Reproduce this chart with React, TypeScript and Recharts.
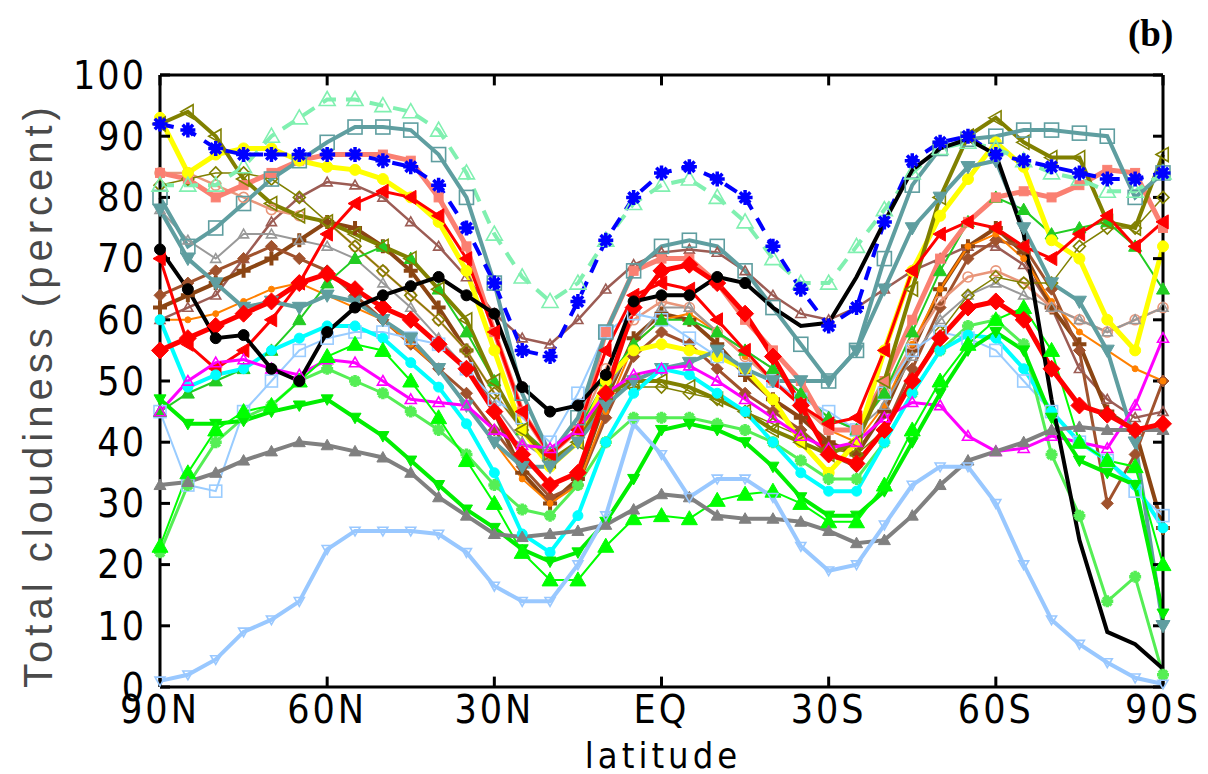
import { LineChart, Line, XAxis, YAxis, ReferenceLine } from 'recharts'

// latitude grid, 90N -> 90S every 5 degrees
const lats = [90, 85, 80, 75, 70, 65, 60, 55, 50, 45, 40, 35, 30, 25, 20, 15, 10, 5, 0, -5, -10, -15, -20, -25, -30, -35, -40, -45, -50, -55, -60, -65, -70, -75, -80, -85, -90]

const latTicks = [90, 60, 30, 0, -30, -60, -90]
const latTickLabels = ['90N', '60N', '30N', 'EQ', '30S', '60S', '90S']
const cloudTicks = [0, 10, 20, 30, 40, 50, 60, 70, 80, 90, 100]

// zonal mean total cloudiness (percent), one array per model / observation
const rosyBrown = [60, 62, 64, 70, 76, 80, 82.5, 82, 80, 76, 72, 67, 61, 57, 56, 60, 65, 69, 71, 71.5, 71, 68, 64, 61, 60, 62, 65, 68, 70, 72, 72, 69, 62, 52, 47, 44, 45]
const saddleBrown = [62, 64, 66, 68, 70, 73, 76, 75, 72, 68, 62, 55, 45, 35, 30, 34, 47, 57, 61, 60, 56, 51, 47, 44, 40, 38, 45, 55, 65, 72, 75, 71, 62, 56, 45, 42, 26]
const sienna = [64, 66, 68, 70, 72, 70, 68, 64, 60, 56, 52, 48, 42, 36, 31, 33, 44, 54, 58, 56, 52, 48, 45, 42, 38, 36, 42, 52, 62, 70, 73, 72, 65, 55, 30, 38, 50]
const orange = [60, 60, 61, 63, 65, 66, 64, 62, 60, 56, 52, 46, 40, 34, 30, 33, 45, 56, 60, 61, 58, 54, 50, 46, 42, 40, 46, 56, 65, 72, 74, 70, 63, 58, 55, 52, 50]
const darkSalmon = [84, 84, 82, 80, 78, 77, 76, 72, 68, 64, 60, 55, 48, 42, 38, 42, 52, 60, 63, 62, 58, 54, 50, 46, 42, 42, 48, 56, 63, 67, 68, 66, 62, 60, 58, 60, 62]
const grayHollow = [78, 73, 70, 74, 74, 73, 72, 70, 66, 62, 57, 52, 46, 40, 37, 40, 48, 56, 62, 62, 58, 55, 52, 48, 44, 42, 46, 54, 60, 64, 66, 64, 62, 60, 58, 60, 62]
const oliveDiamond = [82, 83, 84, 84, 83, 80, 76, 72, 68, 64, 60, 55, 48, 42, 38, 42, 48, 49, 49, 48, 47, 45, 43, 41, 39, 38, 42, 50, 58, 64, 67, 66, 66, 72, 75, 75, 80]
const skySquare = [45, 33, 32, 45, 50, 55, 57, 58, 58, 57, 56, 52, 47, 44, 40, 48, 58, 61, 60, 57, 54, 52, 50, 47, 45, 42, 48, 55, 58, 57, 55, 50, 45, 40, 37, 32, 28]
const limeUp = [45, 48, 50, 52, 55, 60, 66, 70, 72, 70, 65, 58, 50, 42, 38, 42, 50, 56, 60, 60, 58, 55, 52, 48, 44, 42, 48, 58, 68, 76, 80, 78, 74, 75, 76, 72, 65]
const salmon = [84, 83, 80, 82, 84, 86, 87, 87, 87, 86, 80, 72, 58, 45, 38, 42, 58, 68, 70, 70, 66, 60, 55, 50, 42, 42, 50, 60, 70, 76, 80, 81, 80, 82, 84.5, 84, 75]
const yellow = [93, 84, 87, 88, 88, 86, 85, 84.5, 83, 80, 76, 68, 55, 42, 36, 40, 50, 55, 56, 55, 54, 52, 47, 40, 35, 40, 55, 68, 77, 83, 89, 85, 73, 70, 60, 55, 72]
const oliveLeft = [92, 94, 90, 83, 79, 77, 76, 74, 72, 70, 65, 60, 50, 42, 37, 40, 48, 50, 50, 49, 47, 45, 42, 40, 38, 40, 50, 65, 80, 90, 93, 89, 86.5, 86.5, 76, 75, 87]
const redLeft = [70, 56, 52, 55, 60, 66, 74, 79, 81, 80, 77, 70, 58, 45, 38, 42, 55, 64, 66, 65, 60, 55, 50, 46, 43, 44, 55, 68, 74, 76, 75, 72, 70, 74, 77, 72, 76]
const tealDown = [78, 70, 66, 62, 63, 62, 64, 63, 60, 57, 52, 46, 40, 36, 36, 40, 46, 50, 52, 53, 55, 52, 50, 50, 50, 55, 65, 75, 80, 85, 86, 75, 66, 63, 55, 40, 10]
const tealSquare = [80, 72, 75, 79, 83, 86, 89, 91.5, 91.5, 91, 87, 80, 66, 48, 38, 44, 58, 68, 72, 73, 72, 68, 62, 56, 50, 55, 70, 82, 88, 89.5, 90, 91, 91, 90.5, 90, 80, 84]
const lightGreen = [22, 33, 40, 44, 46, 50, 52, 50, 48, 45, 42, 38, 33, 29, 28, 33, 40, 44, 44, 44, 43, 42, 40, 37, 34, 34, 40, 48, 55, 59, 60, 56, 38, 28, 14, 18, 2]
const cyan = [60, 49, 51, 52, 55, 57, 59, 59, 57, 53, 49, 43, 35, 25, 22, 28, 40, 48, 52, 51, 48, 45, 40, 35, 32, 32, 40, 48, 55, 57.5, 57, 52, 45, 40, 37, 33, 26]
const magenta = [45, 50, 53, 53.5, 52, 51, 53.5, 53, 50, 47, 46.5, 46, 42, 39.5, 39, 42, 48, 51, 52, 52.5, 50, 47, 44, 41, 39, 40, 44, 46.5, 46, 41, 38.5, 39, 41, 40, 39, 46, 57]
const greenDown = [47, 43, 43, 43.5, 45, 46, 47, 44, 41, 37, 33, 29, 26, 22.5, 20.5, 22, 27, 34, 42, 43, 42, 40, 36, 31, 28, 28, 32, 40, 48, 55, 58, 55, 44, 37, 35, 33, 12]
const greenUp = [23, 35, 42, 45, 46, 50, 54, 56, 55, 50, 44, 37, 30, 22, 17.5, 17.5, 23, 27.5, 28, 27.5, 30.5, 31.5, 32, 30, 27, 27, 33, 42, 50, 56, 60, 62, 55, 40, 37, 36, 20]
const grayUp = [33, 33.5, 35, 37, 38.5, 40, 39.5, 38.5, 37.5, 35, 31, 28, 25, 24.5, 25, 25.5, 26.5, 29, 31.5, 31, 28, 27.5, 27.5, 27, 25.5, 23.5, 24, 28, 33, 37, 38.5, 40, 42, 42.5, 42, 42, 42]
const lightBlue = [1, 2, 4.5, 9, 11, 14, 22.5, 25.5, 25.5, 25.5, 25, 22, 16.5, 14, 14, 20, 28, 43, 38, 31, 34, 34, 31, 23, 19, 20, 26.5, 33, 36, 36, 30, 20, 11, 7, 4, 1.5, 0.5]
const aquaDashed = [82, 82, 82, 85, 90, 93, 96, 96, 95, 94, 91, 84, 74, 67, 63, 66, 73, 79, 82, 83, 80, 76, 70, 66, 66, 72, 78, 84, 88, 89, 88, 86, 84, 83, 81, 81, 84]
const blueDashed = [92, 91, 88, 87, 87, 87, 87, 87, 86, 85, 82, 75, 66, 55, 54, 63, 73, 80, 84, 85, 83, 80, 72, 65, 59, 62, 76, 86, 89, 90, 87, 86, 85, 84, 83, 83, 84]
const redDiamond = [55, 57, 59, 61, 63, 66, 67.5, 65, 62, 60, 56, 52, 45, 38, 33, 35, 48, 62, 68, 69, 66, 61, 54, 46, 38, 36.5, 42, 50, 57, 62, 63, 60, 52, 46, 44.5, 42, 43]
const observed = [71.5, 65, 57, 57.5, 52, 50, 58, 62, 64, 65.5, 67, 64, 61, 49, 45, 46, 51, 63, 64, 64, 67, 66, 62, 59, 59.5, 67, 76, 84.5, 88, 89.5, 87, 74, 47, 24, 9, 7, 3]

type Marker = 'circle' | 'square' | 'up' | 'down' | 'left' | 'diamond' | 'plus' | 'star' | 'none'

interface SeriesStyle {
  key: string
  values: number[]
  color: string
  width: number
  marker: Marker
  filled: boolean
  size: number
  dash?: string
  markerUntil?: number // only draw markers north of this latitude
}

// drawing order: first is at the bottom
const series: SeriesStyle[] = [
  { key: 'rosyBrown', values: rosyBrown, color: '#9c5c54', width: 2.5, marker: 'up', filled: false, size: 10 },
  { key: 'saddleBrown', values: saddleBrown, color: '#8b4513', width: 4, marker: 'plus', filled: true, size: 14 },
  { key: 'sienna', values: sienna, color: '#a0522d', width: 3, marker: 'diamond', filled: true, size: 12 },
  { key: 'orange', values: orange, color: '#ff8000', width: 2, marker: 'circle', filled: true, size: 6 },
  { key: 'darkSalmon', values: darkSalmon, color: '#e9967a', width: 2.5, marker: 'circle', filled: false, size: 10 },
  { key: 'grayHollow', values: grayHollow, color: '#999999', width: 2, marker: 'up', filled: false, size: 10 },
  { key: 'oliveDiamond', values: oliveDiamond, color: '#808000', width: 1.5, marker: 'diamond', filled: false, size: 12 },
  { key: 'skySquare', values: skySquare, color: '#99ccff', width: 2, marker: 'square', filled: false, size: 12 },
  { key: 'limeUp', values: limeUp, color: '#22cc22', width: 2, marker: 'up', filled: true, size: 13 },
  { key: 'salmon', values: salmon, color: '#fa8072', width: 5, marker: 'square', filled: true, size: 9 },
  { key: 'yellow', values: yellow, color: '#ffff00', width: 5, marker: 'circle', filled: true, size: 11 },
  { key: 'oliveLeft', values: oliveLeft, color: '#808000', width: 4, marker: 'left', filled: false, size: 14 },
  { key: 'redLeft', values: redLeft, color: '#ff0000', width: 3, marker: 'left', filled: true, size: 14 },
  { key: 'tealDown', values: tealDown, color: '#5f9ea0', width: 4, marker: 'down', filled: true, size: 14 },
  { key: 'tealSquare', values: tealSquare, color: '#5f9ea0', width: 4, marker: 'square', filled: false, size: 14 },
  { key: 'lightGreen', values: lightGreen, color: '#55ee55', width: 3, marker: 'star', filled: true, size: 12 },
  { key: 'cyan', values: cyan, color: '#00ffff', width: 4, marker: 'circle', filled: true, size: 10 },
  { key: 'magenta', values: magenta, color: '#ff00ff', width: 3, marker: 'up', filled: false, size: 11 },
  { key: 'greenDown', values: greenDown, color: '#00ee00', width: 4, marker: 'down', filled: true, size: 12 },
  { key: 'greenUp', values: greenUp, color: '#00ff00', width: 2, marker: 'up', filled: true, size: 16 },
  { key: 'grayUp', values: grayUp, color: '#808080', width: 4, marker: 'up', filled: true, size: 12 },
  { key: 'lightBlue', values: lightBlue, color: '#99c8ff', width: 4, marker: 'down', filled: false, size: 10 },
  { key: 'aquaDashed', values: aquaDashed, color: '#80f0b0', width: 4, marker: 'up', filled: false, size: 16, dash: '14 10' },
  { key: 'blueDashed', values: blueDashed, color: '#0000ff', width: 4, marker: 'star', filled: true, size: 15, dash: '14 10' },
  { key: 'redDiamond', values: redDiamond, color: '#ff0000', width: 5, marker: 'diamond', filled: true, size: 17 },
  { key: 'observed', values: observed, color: '#000000', width: 4, marker: 'circle', filled: true, size: 11, markerUntil: -15 },
]

const chartData = lats.map((lat, i) => {
  const row: Record<string, number> = { lat }
  series.forEach(s => { row[s.key] = s.values[i] })
  return row
})

function drawMarker(kind: Marker, cx: number, cy: number, size: number, color: string, filled: boolean, key: string) {
  const r = size / 2
  const fill = filled ? color : 'none'
  const sw = filled ? 1 : 1.6
  switch (kind) {
    case 'circle':
      return <circle key={key} cx={cx} cy={cy} r={r} fill={fill} stroke={color} strokeWidth={sw} />
    case 'square':
      return <rect key={key} x={cx - r} y={cy - r} width={size} height={size} fill={fill} stroke={color} strokeWidth={sw} />
    case 'up':
      return <polygon key={key} points={`${cx},${cy - r} ${cx + r},${cy + r * 0.75} ${cx - r},${cy + r * 0.75}`} fill={fill} stroke={color} strokeWidth={sw} />
    case 'down':
      return <polygon key={key} points={`${cx},${cy + r} ${cx + r},${cy - r * 0.75} ${cx - r},${cy - r * 0.75}`} fill={fill} stroke={color} strokeWidth={sw} />
    case 'left':
      return <polygon key={key} points={`${cx - r},${cy} ${cx + r * 0.75},${cy - r} ${cx + r * 0.75},${cy + r}`} fill={fill} stroke={color} strokeWidth={sw} />
    case 'diamond':
      return <polygon key={key} points={`${cx},${cy - r} ${cx + r},${cy} ${cx},${cy + r} ${cx - r},${cy}`} fill={fill} stroke={color} strokeWidth={sw} />
    case 'plus':
      return <path key={key} d={`M${cx - r},${cy}H${cx + r}M${cx},${cy - r}V${cy + r}`} stroke={color} strokeWidth={4} />
    case 'star': {
      const d = r * 0.7
      return (
        <path
          key={key}
          d={`M${cx - r},${cy}H${cx + r}M${cx},${cy - r}V${cy + r}M${cx - d},${cy - d}L${cx + d},${cy + d}M${cx - d},${cy + d}L${cx + d},${cy - d}`}
          stroke={color}
          strokeWidth={3.5}
        />
      )
    }
    default:
      return <g key={key} />
  }
}

const tickFont = "'Liberation Sans Narrow', 'DejaVu Sans Condensed', 'Liberation Sans', sans-serif"

export default function App() {
  return (
    <div style={{ position: 'relative', width: 1200, height: 766 }}>
      <LineChart
        width={1200}
        height={766}
        data={chartData}
        margin={{ top: 67, right: 45, left: 0, bottom: 0 }}
        style={{ overflow: 'visible' }}
      >
        <XAxis
          dataKey="lat"
          type="number"
          domain={[-90, 90]}
          reversed
          ticks={latTicks}
          interval={0}
          tickFormatter={(v: number) => latTickLabels[latTicks.indexOf(v)] ?? ''}
          tickLine={false}
          tickSize={8}
          tickMargin={0}
          height={87}
          axisLine={{ stroke: '#000', strokeWidth: 3 }}
          tick={{ fill: '#000', fontSize: 39, fontFamily: tickFont, letterSpacing: 3 }}
        />
        <YAxis
          type="number"
          domain={[0, 100]}
          ticks={cloudTicks}
          interval={0}
          width={152}
          tickLine={false}
          tickSize={0}
          tickMargin={14}
          axisLine={{ stroke: '#000', strokeWidth: 3 }}
          tick={{ fill: '#000', fontSize: 39, fontFamily: tickFont, letterSpacing: 2 }}
        />

        {series.map(s => (
          <Line
            key={s.key}
            dataKey={s.key}
            type="linear"
            stroke={s.color}
            strokeWidth={s.width}
            strokeDasharray={s.dash}
            isAnimationActive={false}
            activeDot={false}
            dot={(p: any) => {
              const k = `${s.key}-${p.index}`
              if (p.cx == null || p.cy == null) return <g key={k} />
              if (s.markerUntil !== undefined && p.payload.lat < s.markerUntil) return <g key={k} />
              return drawMarker(s.marker, p.cx, p.cy, s.size, s.color, s.filled, k)
            }}
          />
        ))}

        {/* frame top/right and inward ticks */}
        <ReferenceLine y={100} stroke="#000" strokeWidth={3} />
        <ReferenceLine x={-90} stroke="#000" strokeWidth={3} />
        {latTicks.map(t => (
          <ReferenceLine key={`xb${t}`} segment={[{ x: t, y: 0 }, { x: t, y: 1.7 }]} stroke="#000" strokeWidth={3} />
        ))}
        {latTicks.map(t => (
          <ReferenceLine key={`xt${t}`} segment={[{ x: t, y: 100 }, { x: t, y: 98.3 }]} stroke="#000" strokeWidth={3} />
        ))}
        {cloudTicks.map(t => (
          <ReferenceLine key={`yl${t}`} segment={[{ x: 90, y: t }, { x: 88.2, y: t }]} stroke="#000" strokeWidth={3} />
        ))}
        {cloudTicks.map(t => (
          <ReferenceLine key={`yr${t}`} segment={[{ x: -90, y: t }, { x: -88.2, y: t }]} stroke="#000" strokeWidth={3} />
        ))}
      </LineChart>

      <div
        style={{
          position: 'absolute',
          left: 30,
          top: 387,
          transform: 'translate(-50%, -50%) rotate(-90deg)',
          whiteSpace: 'nowrap',
          fontFamily: "'Liberation Sans', Arial, sans-serif",
          fontSize: 40,
          lineHeight: '40px',
          letterSpacing: 5,
          color: '#4a4a4a',
        }}
      >
        Total cloudiness (percent)
      </div>
      <div
        style={{
          position: 'absolute',
          left: 655,
          top: 730,
          transform: 'translateX(-50%)',
          whiteSpace: 'nowrap',
          fontFamily: tickFont,
          fontSize: 36,
          lineHeight: '36px',
          letterSpacing: 4,
          color: '#000',
        }}
      >
        latitude
      </div>
      <div
        style={{
          position: 'absolute',
          left: 1120,
          top: 4,
          fontFamily: "'Liberation Serif', 'Times New Roman', serif",
          fontWeight: 'bold',
          fontSize: 37,
          color: '#000',
        }}
      >
        (b)
      </div>
    </div>
  )
}
